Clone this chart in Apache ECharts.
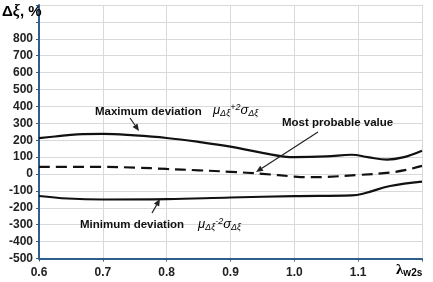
<!DOCTYPE html>
<html>
<head>
<meta charset="utf-8">
<script src="https://cdn.jsdelivr.net/npm/echarts@6/dist/echarts.min.js"></script>
<style>html,body{margin:0;padding:0;background:#fff}#c{width:433px;height:282px}</style>
</head>
<body>
<div id="c"></div>
<script>
// x values (lambda_w2s) and deviation values, %
var maxX = [0.6, 0.625, 0.66, 0.7, 0.75, 0.8, 0.85, 0.9, 0.95, 1.0, 1.05, 1.09, 1.115, 1.145, 1.17, 1.2];
var maxY = [212, 222, 235, 237, 228, 213, 190, 162, 125, 100, 104, 114, 100, 85, 98, 138];
var probX = [0.6, 0.7, 0.75, 0.8, 0.85, 0.9, 0.95, 1.0, 1.025, 1.05, 1.1, 1.15, 1.175, 1.2];
var probY = [42, 42, 38, 30, 22, 13, 1, -15, -19, -17, -6, 9, 24, 48];
var minX = [0.6, 0.645, 0.7, 0.8, 0.9, 1.0, 1.09, 1.11, 1.15, 1.2];
var minY = [-130, -145, -151, -149, -139, -131, -127, -114, -71, -45];
var yTicks = [-500, -400, -300, -200, -100, 0, 100, 200, 300, 400, 500, 600, 700, 800];
var xTicks = ['0.6', '0.7', '0.8', '0.9', '1.0', '1.1'];

function pairs(xs, ys) { return xs.map(function (x, i) { return [x, ys[i]]; }); }

var chart = echarts.init(document.getElementById('c'), null, { renderer: 'canvas' });
var axisBlue = '#2f5d8c';
var lineCol = '#111';
var font = 'Arial, "Liberation Sans", sans-serif';

function arrow(x1, y1, x2, y2) {
  var ang = Math.atan2(y2 - y1, x2 - x1), L = 7, W = 3;
  var bx = x2 - L * Math.cos(ang), by = y2 - L * Math.sin(ang);
  var px = -Math.sin(ang) * W, py = Math.cos(ang) * W;
  return [
    { type: 'line', shape: { x1: x1, y1: y1, x2: bx, y2: by }, style: { stroke: '#222', lineWidth: 1.2 }, z: 100 },
    { type: 'polygon', shape: { points: [[x2, y2], [bx + px, by + py], [bx - px, by - py]] }, style: { fill: '#222' }, z: 100 }
  ];
}

var formulaRich = {
  m: { fontFamily: font, fontStyle: 'italic', fontSize: 13, color: '#333' },
  s: { fontFamily: font, fontStyle: 'italic', fontSize: 9, color: '#333', padding: [6, 0, 0, 0] },
  p: { fontFamily: font, fontStyle: 'italic', fontSize: 9, color: '#333', padding: [0, 0, 5, 0] }
};

var graphics = [
  { type: 'text', left: 2, top: 4, style: { text: '{a|Δ}{b|ξ}{a|, %}', rich: {
      a: { fontFamily: font, fontWeight: 'bold', fontSize: 15, color: '#111' },
      b: { fontFamily: '"Liberation Serif", serif', fontStyle: 'italic', fontWeight: 'bold', fontSize: 16, color: '#111' } } }, z: 100 },
  { type: 'text', x: 95, y: 112, style: { text: 'Maximum deviation', font: 'bold 11.5px ' + font, fill: '#111', textVerticalAlign: 'middle' }, z: 100 },
  { type: 'text', x: 213, y: 110, style: { text: '{m|μ}{s|Δξ}{p|+2}{m|σ}{s|Δξ}', rich: formulaRich, textVerticalAlign: 'middle' }, z: 100 },
  { type: 'text', x: 282, y: 123, style: { text: 'Most probable value', font: 'bold 11.5px ' + font, fill: '#111', textVerticalAlign: 'middle' }, z: 100 },
  { type: 'text', x: 80, y: 225, style: { text: 'Minimum deviation', font: 'bold 11.5px ' + font, fill: '#111', textVerticalAlign: 'middle' }, z: 100 },
  { type: 'text', x: 198, y: 224, style: { text: '{m|μ}{s|Δξ}{p|-2}{m|σ}{s|Δξ}', rich: formulaRich, textVerticalAlign: 'middle' }, z: 100 },
  { type: 'text', x: 396, y: 262, style: { text: '{l|λ}{w|w2s}', rich: {
      l: { fontFamily: '"Liberation Serif", serif', fontWeight: 'bold', fontSize: 15, color: '#222' },
      w: { fontFamily: font, fontWeight: 'bold', fontSize: 10, color: '#222', padding: [6, 0, 0, 0] } } }, z: 100 }
].concat(arrow(130, 118, 139, 131), arrow(318, 132, 256, 172), arrow(152, 213, 160, 199));

chart.setOption({
  animation: false,
  grid: { left: 39, right: 11, top: 5, bottom: 23.5 },
  xAxis: {
    type: 'value', min: 0.6, max: 1.2, interval: 0.1,
    axisLine: { show: true, onZero: false, lineStyle: { color: axisBlue, width: 2 } },
    axisTick: { show: true, length: 3, lineStyle: { color: axisBlue } },
    splitLine: { show: true, lineStyle: { color: '#d9d9d9', width: 1 } },
    axisLabel: {
      margin: 8, fontFamily: font, fontWeight: 'bold', fontSize: 12, color: '#222',
      formatter: function (v) { var i = Math.round((v - 0.6) * 10); return xTicks[i] || ''; }
    }
  },
  yAxis: {
    type: 'value', min: -500, max: 1000, interval: 100,
    axisLine: { show: true, onZero: false, lineStyle: { color: axisBlue, width: 2 } },
    axisTick: { show: true, length: 3, lineStyle: { color: axisBlue } },
    splitLine: { show: true, lineStyle: { color: '#d9d9d9', width: 1 } },
    axisLabel: {
      margin: 6, fontFamily: font, fontWeight: 'bold', fontSize: 12, color: '#222',
      formatter: function (v) { return yTicks.indexOf(Math.round(v)) >= 0 ? String(Math.round(v)) : ''; }
    }
  },
  series: [
    { type: 'line', data: pairs(maxX, maxY), smooth: 0.4, symbol: 'none', lineStyle: { color: lineCol, width: 2.2 } },
    { type: 'line', data: pairs(probX, probY), smooth: 0.4, symbol: 'none', lineStyle: { color: lineCol, width: 2.2, type: [11, 6] } },
    { type: 'line', data: pairs(minX, minY), smooth: 0.4, symbol: 'none', lineStyle: { color: lineCol, width: 2.2 } }
  ],
  graphic: graphics
});
</script>
</body>
</html>
